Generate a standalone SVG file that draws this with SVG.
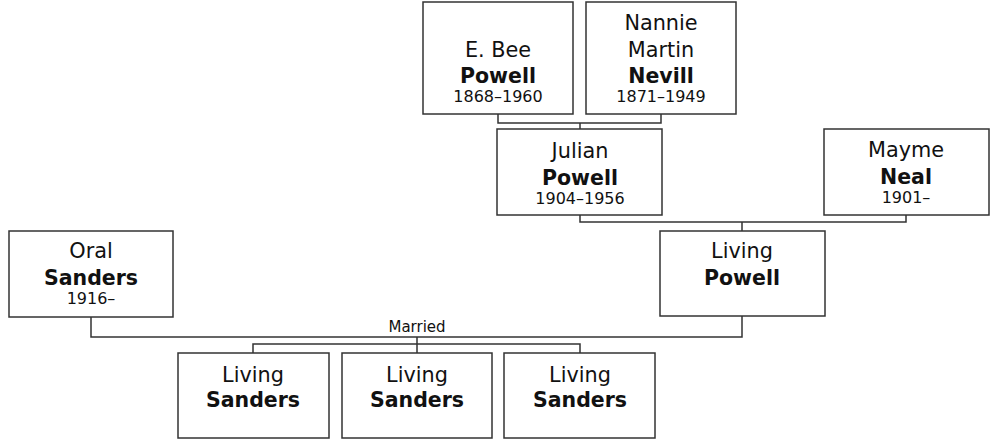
<svg xmlns="http://www.w3.org/2000/svg" width="991" height="440" viewBox="0 0 991 440">
<style>
.box{fill:#fff;stroke:#333;stroke-width:1.5}
.ln{fill:none;stroke:#333;stroke-width:1.5}
text{font-family:"DejaVu Sans",Verdana,sans-serif;text-anchor:middle;fill:#111}
.n{font-size:20.8px}
.b{font-size:20.5px;font-weight:bold}
.d{font-size:16px}
.m{font-size:15px}
</style>
<rect width="991" height="440" fill="#fff"/>
<g id="connectors">
<path class="ln" d="M498,114V123H661V114M580,123V129"/>
<path class="ln" d="M580,215V222H906V215M742,222V231"/>
<path class="ln" d="M91,317V337H742V316"/>
<path class="ln" d="M417,337V353M253,353V344H580V353"/>
<text class="m" x="417" y="332">Married</text>
</g>
<g id="ebee"><rect class="box" x="423" y="2" width="150" height="112"/><text class="n" x="498" y="57">E. Bee</text><text class="b" x="498" y="83">Powell</text><text class="d" x="498" y="102">1868–1960</text></g>
<g id="nannie"><rect class="box" x="586" y="2" width="150" height="112"/><text class="n" x="661" y="30">Nannie</text><text class="n" x="661" y="57">Martin</text><text class="b" x="661" y="83">Nevill</text><text class="d" x="661" y="102">1871–1949</text></g>
<g id="julian"><rect class="box" x="497" y="129" width="165" height="86"/><text class="n" x="580" y="158">Julian</text><text class="b" x="580" y="185">Powell</text><text class="d" x="580" y="204">1904–1956</text></g>
<g id="mayme"><rect class="box" x="824" y="129" width="165" height="86"/><text class="n" x="906" y="157">Mayme</text><text class="b" x="906" y="184">Neal</text><text class="d" x="906" y="203">1901–</text></g>
<g id="livingpowell"><rect class="box" x="660" y="231" width="165" height="85"/><text class="n" x="742" y="258">Living</text><text class="b" x="742" y="285">Powell</text></g>
<g id="oral"><rect class="box" x="9" y="231" width="164" height="86"/><text class="n" x="91" y="258">Oral</text><text class="b" x="91" y="285">Sanders</text><text class="d" x="91" y="304">1916–</text></g>
<g id="child1"><rect class="box" x="178" y="353" width="151" height="85"/><text class="n" x="253" y="382">Living</text><text class="b" x="253" y="407">Sanders</text></g>
<g id="child2"><rect class="box" x="342" y="353" width="150" height="85"/><text class="n" x="417" y="382">Living</text><text class="b" x="417" y="407">Sanders</text></g>
<g id="child3"><rect class="box" x="504" y="353" width="151" height="85"/><text class="n" x="580" y="382">Living</text><text class="b" x="580" y="407">Sanders</text></g>
</svg>
